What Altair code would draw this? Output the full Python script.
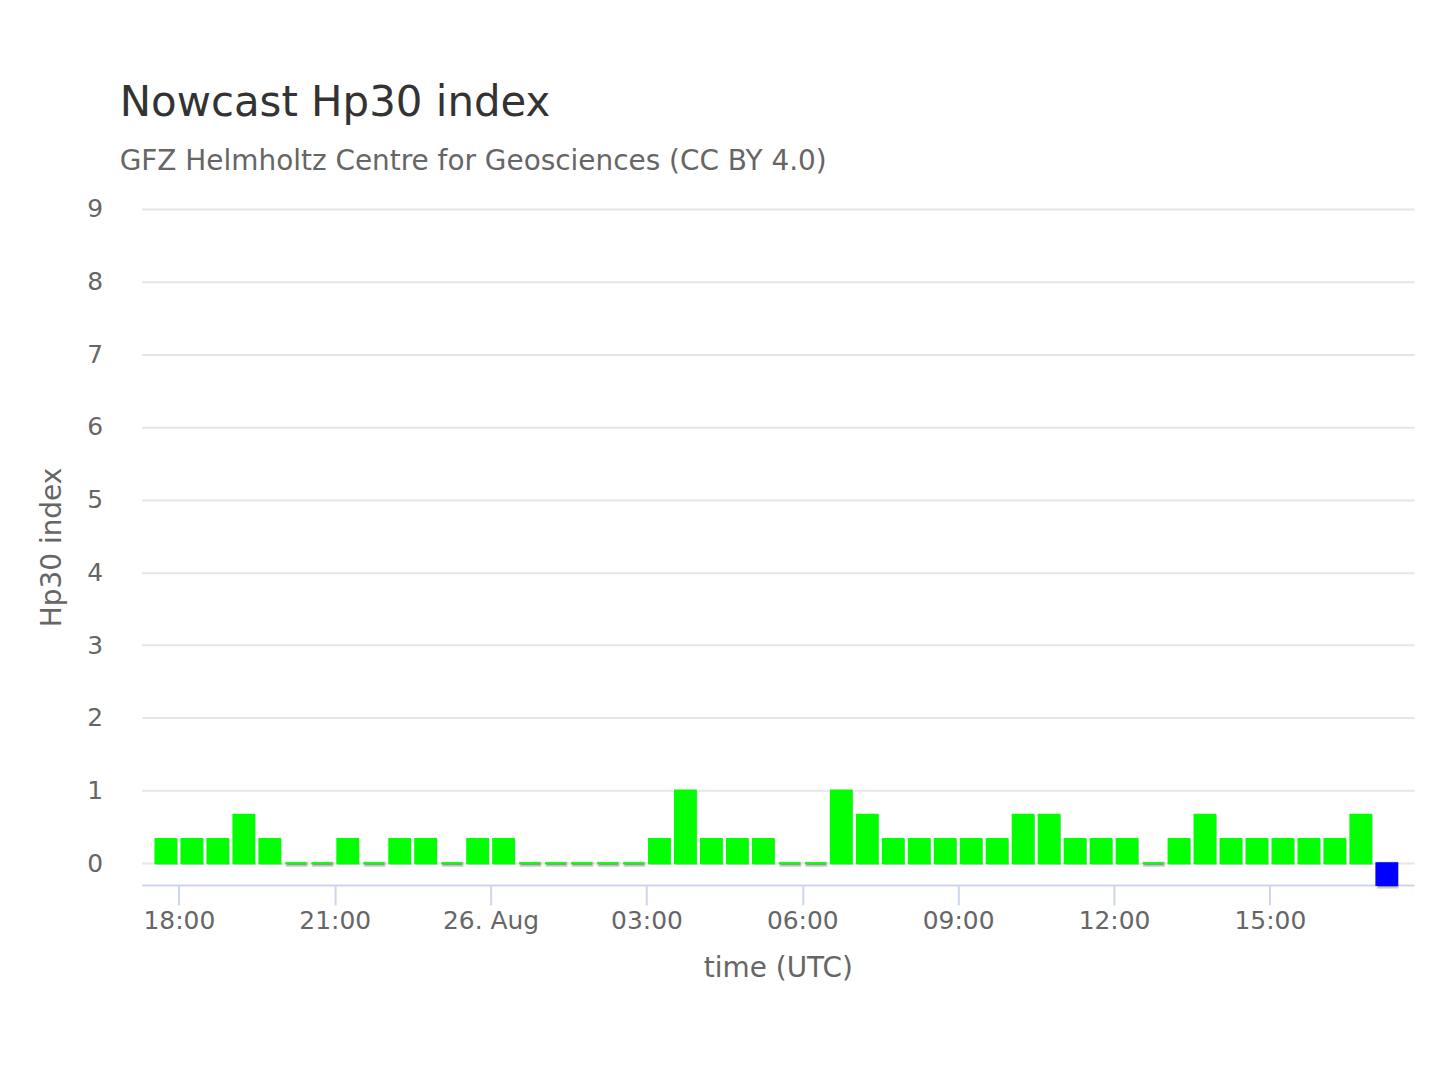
import altair as alt
import pandas as pd

# Hp30 values, one per 30-minute interval (first interval centred at 17:45 UTC on 25 Aug)
hp30 = [0.333, 0.333, 0.333, 0.667, 0.333, 0, 0, 0.333, 0, 0.333,
        0.333, 0, 0.333, 0.333, 0, 0, 0, 0, 0, 0.333,
        1, 0.333, 0.333, 0.333, 0, 0, 1, 0.667, 0.333, 0.333,
        0.333, 0.333, 0.333, 0.667, 0.667, 0.333, 0.333, 0.333, 0, 0.333,
        0.667, 0.333, 0.333, 0.333, 0.333, 0.333, 0.667, -0.3]
first_center = "2023-08-25 17:45"
tick_times = ["2023-08-25 18:00", "2023-08-25 21:00", "2023-08-26 00:00",
              "2023-08-26 03:00", "2023-08-26 06:00", "2023-08-26 09:00",
              "2023-08-26 12:00", "2023-08-26 15:00"]
y_ticks = [0, 1, 2, 3, 4, 5, 6, 7, 8, 9]

centers = pd.date_range(first_center, periods=len(hp30), freq="30min")
df = pd.DataFrame({
    "start": (centers - pd.Timedelta(minutes=12)).strftime("%Y-%m-%dT%H:%M:%SZ"),
    "end": (centers + pd.Timedelta(minutes=12)).strftime("%Y-%m-%dT%H:%M:%SZ"),
    "hp30": hp30,
})


def dt(s):
    t = pd.Timestamp(s)
    return alt.DateTime(year=t.year, month=t.month, date=t.day,
                        hours=t.hour, minutes=t.minute, seconds=t.second, utc=True)


FONT = "DejaVu Sans"
x_scale = alt.Scale(type="utc", domain=[dt("2023-08-25 17:17:00"), dt("2023-08-26 17:46:30")])
y_scale = alt.Scale(domain=[-0.3, 9], nice=False, zero=False)

x_enc = alt.X("start:T", scale=x_scale,
              axis=alt.Axis(values=[dt(t) for t in tick_times],
                            labelExpr="utchours(datum.value) == 0 ? utcFormat(datum.value, '%d. %b') : utcFormat(datum.value, '%H:%M')",
                            title="time (UTC)", grid=False,
                            domainColor="#ccd6eb", domainWidth=2,
                            tickColor="#ccd6eb", tickWidth=2, tickSize=20,
                            labelPadding=4, labelFontSize=25, labelColor="#666666",
                            labelFont=FONT, titleFont=FONT, titleFontSize=28,
                            titleColor="#666666", titleFontWeight="normal",
                            titlePadding=21))
y_enc = alt.Y("hp30:Q", scale=y_scale,
              axis=alt.Axis(values=y_ticks, title="Hp30 index", grid=True,
                            gridColor="#e6e6e6", gridWidth=2, domain=False,
                            ticks=False, labelPadding=39, labelFontSize=25,
                            labelColor="#666666", labelFont=FONT,
                            titleFont=FONT, titleFontSize=28, titleColor="#666666",
                            titleFontWeight="normal", titlePadding=20))

bar_color = alt.condition(alt.datum.hp30 < 0, alt.value("#0000ff"), alt.value("#00ff00"))

shadow = alt.Chart(df).mark_bar(fill="#000000", fillOpacity=0.22, xOffset=2, yOffset=2,
                                stroke="#000000", strokeWidth=3, strokeOpacity=0.22).encode(
    x=x_enc, x2="end:T", y=y_enc, y2=alt.datum(0)
)
bars = alt.Chart(df).mark_bar(strokeWidth=2).encode(
    x=x_enc, x2="end:T", y=y_enc, y2=alt.datum(0),
    color=bar_color, stroke=bar_color
)

chart = alt.layer(shadow, bars).properties(
    width=1276, height=678,
    autosize=alt.AutoSizeParams(type="none"),
    padding={"left": 134, "top": 200, "right": 18, "bottom": 150},
    title=alt.TitleParams(
        text="Nowcast Hp30 index",
        subtitle="GFZ Helmholtz Centre for Geosciences (CC BY 4.0)",
        anchor="start", frame="group", dx=-22, offset=20,
        font=FONT, fontSize=42, fontWeight="normal", color="#333333",
        subtitleFont=FONT, subtitleFontSize=28, subtitleColor="#666666",
        subtitlePadding=23,
    ),
).configure_view(strokeWidth=0, stroke="transparent")

chart.save("out.html", embed_options={"renderer": "svg", "actions": False})
